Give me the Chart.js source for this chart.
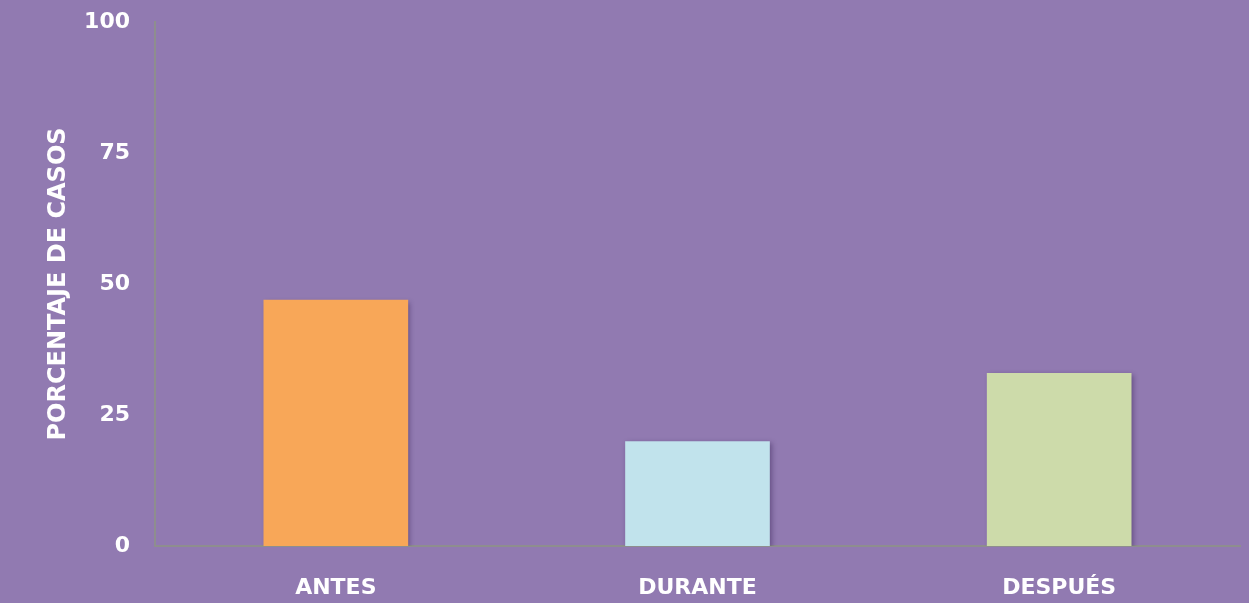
<!DOCTYPE html>
<html>
<head>
<meta charset="utf-8">
<script src="https://cdn.jsdelivr.net/npm/chart.js@4/dist/chart.umd.min.js"></script>
<style>
  html, body { margin: 0; padding: 0; background: #917AB1; }
  #wrap { width: 1249px; height: 603px; position: relative; }
</style>
</head>
<body>
<div id="wrap"><canvas id="c"></canvas></div>
<script>
const categories = ["ANTES", "DURANTE", "DESPUÉS"];
const values = [47, 20, 33];
const barColors = ["#F8A758", "#C1E3EC", "#CDDBAA"];
const yTicks = [0, 25, 50, 75, 100];
const yTitle = "PORCENTAJE DE CASOS";

const shadowPlugin = {
  id: 'barShadow',
  beforeDatasetsDraw(chart) {
    const ctx = chart.ctx;
    ctx.save();
    ctx.shadowColor = 'rgba(40,20,70,0.4)';
    ctx.shadowBlur = 5;
    ctx.shadowOffsetX = 2;
    ctx.shadowOffsetY = 2;
  },
  afterDatasetsDraw(chart) {
    chart.ctx.restore();
  }
};

const fontFamily = "'DejaVu Sans', 'Noto Sans', sans-serif";

new Chart(document.getElementById('c'), {
  type: 'bar',
  data: {
    labels: categories,
    datasets: [{
      data: values,
      backgroundColor: barColors,
      borderWidth: 0,
      barPercentage: 0.4,
      categoryPercentage: 1.0
    }]
  },
  options: {
    responsive: true,
    maintainAspectRatio: false,
    animation: false,
    layout: { padding: { left: 0, top: 22, right: 9, bottom: 0 } },
    plugins: { legend: { display: false }, tooltip: { enabled: false } },
    scales: {
      x: {
        grid: { display: false, drawTicks: false },
        border: { display: true, color: '#8E8E8E', width: 2 },
        ticks: {
          color: '#FFFFFF',
          padding: 29,
          font: { family: fontFamily, size: 22, weight: 'bold' },
          maxRotation: 0
        },
        afterFit(scale) { scale.height = 57; scale.paddingLeft = 0; scale.paddingRight = 0; }
      },
      y: {
        min: 0,
        max: 100,
        afterBuildTicks(scale) { scale.ticks = yTicks.map(v => ({ value: v })); },
        grid: { display: false, drawTicks: false },
        border: { display: true, color: '#8E8E8E', width: 2 },
        ticks: {
          color: '#FFFFFF',
          padding: 25,
          font: { family: fontFamily, size: 22, weight: 'bold' }
        },
        title: {
          display: true,
          text: yTitle,
          color: '#FFFFFF',
          padding: { top: 44, bottom: 0 },
          font: { family: fontFamily, size: 24, weight: 'bold' }
        },
        afterFit(scale) { scale.width = 155; scale.paddingTop = 0; scale.paddingBottom = 0; }
      }
    }
  },
  plugins: [shadowPlugin]
});
</script>
</body>
</html>
